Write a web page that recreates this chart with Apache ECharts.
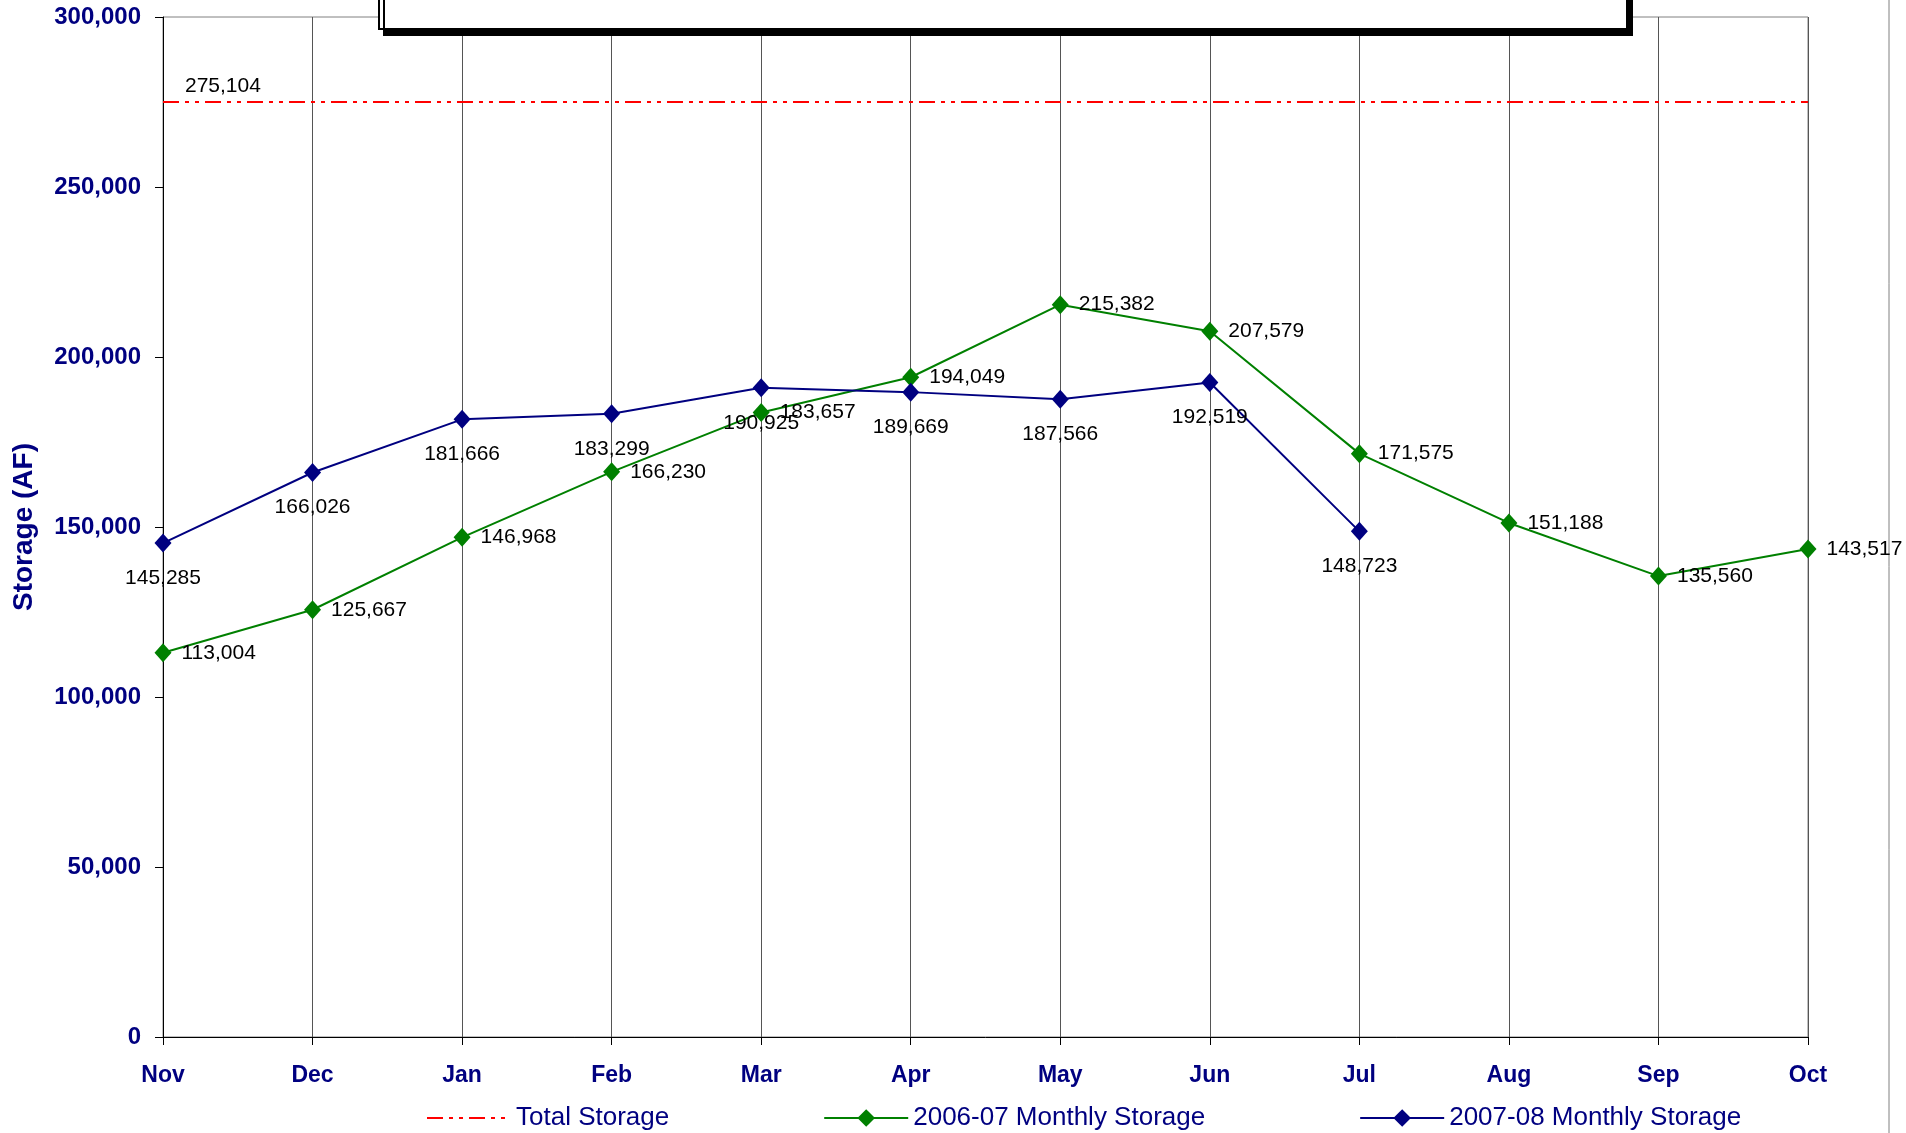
<!DOCTYPE html>
<html>
<head>
<meta charset="utf-8">
<title>Storage (AF)</title>
<script src="https://cdn.jsdelivr.net/npm/echarts@6/dist/echarts.min.js"></script>
<style>
  html, body { margin: 0; padding: 0; background: #fff; }
  #storageChart { width: 1906px; height: 1133px; }
</style>
</head>
<body>
<div id="storageChart"></div>
<script>
var months = ['Nov', 'Dec', 'Jan', 'Feb', 'Mar', 'Apr', 'May', 'Jun', 'Jul', 'Aug', 'Sep', 'Oct'];
var storage0607 = [113004, 125667, 146968, 166230, 183657, 194049, 215382, 207579, 171575, 151188, 135560, 143517];
var storage0708 = [145285, 166026, 181666, 183299, 190925, 189669, 187566, 192519, 148723, null, null, null];
var totalStorage = 275104;
var yTicks = { min: 0, max: 300000, interval: 50000 };

var navy = '#000080';
var green = '#008000';
var font = 'Liberation Sans, Arial, sans-serif';
var dashDotDot = [16, 6, 4, 6, 4, 6];

function fmt(v) {
    return Number(v).toLocaleString('en-US');
}

var chartDom = document.getElementById('storageChart');
var myChart = echarts.init(chartDom);
var option;

option = {
    animation: false,
    textStyle: { fontFamily: font },
    grid: {
        left: 163, right: 98, top: 17, bottom: 96,
        outerBoundsMode: 'none',
        containLabel: false,
        show: true, borderColor: '#808080', borderWidth: 1
    },
    legend: {
        left: 421, top: 1100,
        itemWidth: 84, itemHeight: 22, itemGap: 154,
        textStyle: { color: navy, fontSize: 26, fontFamily: font },
        data: [
            { name: 'Total Storage', itemStyle: { color: 'transparent', borderWidth: 0 } },
            '2006-07 Monthly Storage',
            '2007-08 Monthly Storage'
        ]
    },
    xAxis: {
        type: 'category',
        data: months,
        boundaryGap: false,
        axisLine: { lineStyle: { color: '#000', width: 1 } },
        axisTick: { show: true, length: 8, lineStyle: { color: '#000' } },
        axisLabel: { color: navy, fontWeight: 'bold', fontSize: 23, margin: 27, fontFamily: font },
        splitLine: { show: true, lineStyle: { color: '#555', width: 1 } }
    },
    yAxis: {
        type: 'value',
        min: yTicks.min, max: yTicks.max, interval: yTicks.interval,
        name: 'Storage (AF)',
        nameLocation: 'middle',
        nameGap: 125,
        nameTextStyle: { color: navy, fontWeight: 'bold', fontSize: 28, fontFamily: font },
        axisLine: { show: true, lineStyle: { color: '#000', width: 1 } },
        axisTick: { show: true, length: 8, lineStyle: { color: '#000' } },
        axisLabel: { color: navy, fontWeight: 'bold', fontSize: 24, margin: 22, fontFamily: font, formatter: fmt },
        splitLine: { show: false }
    },
    series: [
        {
            name: 'Total Storage',
            type: 'line',
            data: [],
            symbol: 'none',
            itemStyle: { color: 'red' },
            lineStyle: { color: 'red', width: 2, type: dashDotDot },
            markLine: {
                silent: true,
                symbol: 'none',
                lineStyle: { color: 'red', width: 2, type: dashDotDot },
                label: {
                    position: 'insideStartTop',
                    distance: [22, 5],
                    color: '#000',
                    fontSize: 21,
                    fontFamily: font,
                    formatter: function (p) { return fmt(p.value); }
                },
                data: [{ yAxis: totalStorage }]
            }
        },
        {
            name: '2006-07 Monthly Storage',
            type: 'line',
            data: storage0607,
            symbol: 'diamond',
            symbolSize: [17, 19],
            itemStyle: { color: green },
            lineStyle: { color: green, width: 2 },
            label: {
                show: true, position: 'right', distance: 10,
                color: '#000', fontSize: 21, fontFamily: font,
                formatter: function (p) { return fmt(p.value); }
            }
        },
        {
            name: '2007-08 Monthly Storage',
            type: 'line',
            data: storage0708,
            symbol: 'diamond',
            symbolSize: [17, 19],
            itemStyle: { color: navy },
            lineStyle: { color: navy, width: 2 },
            label: {
                show: true, position: 'bottom', distance: 15,
                color: '#000', fontSize: 21, fontFamily: font,
                formatter: function (p) { return fmt(p.value); }
            }
        }
    ],
    graphic: [
        {
            type: 'rect',
            shape: { x: 379, y: -20, width: 1248, height: 49 },
            style: {
                fill: '#fff', stroke: '#000', lineWidth: 2,
                shadowColor: '#000', shadowOffsetX: 5, shadowOffsetY: 6, shadowBlur: 0
            },
            z: 100
        },
        {
            type: 'line',
            shape: { x1: 1889, y1: 0, x2: 1889, y2: 1133 },
            style: { stroke: '#808080', lineWidth: 1 }
        }
    ]
};

myChart.setOption(option);
</script>
</body>
</html>
